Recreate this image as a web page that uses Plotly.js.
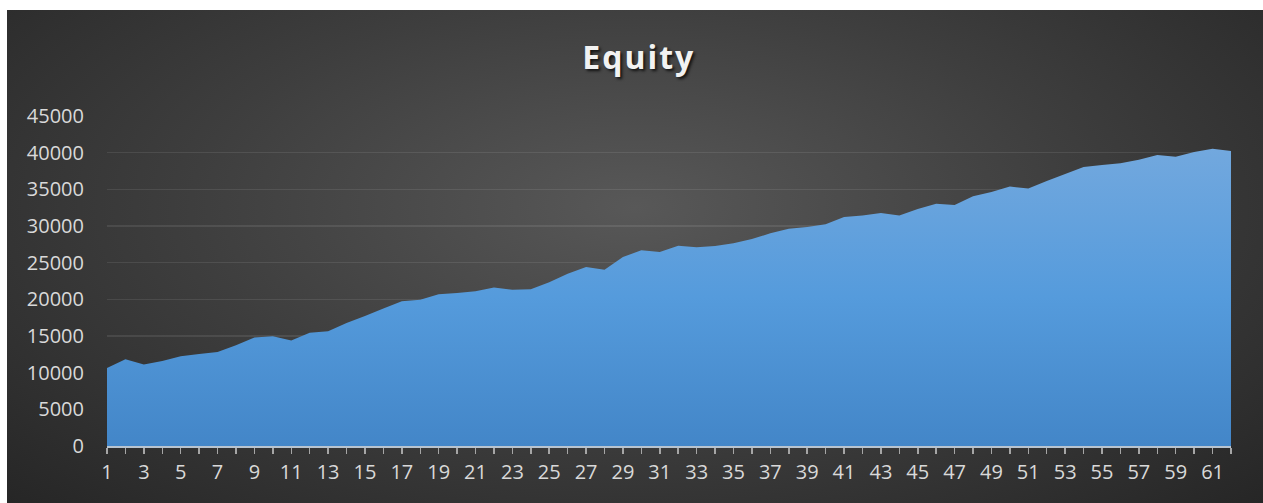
<!DOCTYPE html>
<html>
<head>
<meta charset="utf-8">
<script src="https://cdn.plot.ly/plotly-3.0.1.min.js"></script>
<style>
  html, body { margin: 0; padding: 0; background: #ffffff; width: 1263px; height: 503px; overflow: hidden; }
  #chart {
    position: absolute; left: 7px; top: 10px; width: 1256px; height: 493px;
    background: radial-gradient(ellipse at 50% 40%, #585858 0%, #3e3e3e 50%, #262626 100%);
  }
  #chart .gtitle { letter-spacing: 2px; }
</style>
</head>
<body>
<div id="chart"></div>
<script>
// Categories (period numbers) and equity values
const periods = ["1","2","3","4","5","6","7","8","9","10","11","12","13","14","15","16","17","18","19","20",
  "21","22","23","24","25","26","27","28","29","30","31","32","33","34","35","36","37","38","39","40",
  "41","42","43","44","45","46","47","48","49","50","51","52","53","54","55","56","57","58","59","60","61","62"];
const equity = [10640, 11820, 11100, 11590, 12230, 12545, 12820, 13730, 14780, 14960,
  14370, 15460, 15640, 16770, 17730, 18735, 19730, 19950, 20690, 20870,
  21100, 21600, 21320, 21370, 22320, 23500, 24410, 24050, 25770, 26690,
  26450, 27320, 27100, 27270, 27640, 28230, 29000, 29640, 29870, 30230,
  31230, 31420, 31770, 31420, 32320, 33050, 32860, 34050, 34640, 35370,
  35100, 36140, 37090, 38050, 38320, 38550, 39050, 39680, 39460, 40090, 40550, 40230];
const tickLabels = periods.map((p, i) => (i % 2 === 0 ? p : ""));
const chartTitle = "Equity";

const trace = {
  type: "scatter",
  x: periods,
  y: equity,
  mode: "none",
  fill: "tozeroy",
  fillgradient: {
    type: "vertical",
    colorscale: [[0, "#4386c8"], [0.5, "#559bdc"], [1, "#72a8de"]]
  },
  hoverinfo: "x+y"
};

const layout = {
  width: 1256,
  height: 493,
  paper_bgcolor: "rgba(0,0,0,0)",
  plot_bgcolor: "rgba(0,0,0,0)",
  margin: { l: 100, r: 32, t: 106, b: 57 },
  showlegend: false,
  title: {
    text: "<b>" + chartTitle + "</b>",
    x: 0.503,
    xref: "container",
    xanchor: "center",
    y: 0.904,
    yref: "container",
    yanchor: "middle",
    font: { family: "Open Sans", size: 32, color: "#f2f2f2", shadow: "2px 2px 3px rgba(0,0,0,0.75)" }
  },
  xaxis: {
    type: "category",
    range: [0, 61],
    tickvals: periods,
    ticktext: tickLabels,
    showgrid: false,
    showline: true,
    linecolor: "#b8c4d0",
    linewidth: 1.5,
    ticks: "outside",
    ticklen: 6,
    tickwidth: 1.5,
    tickcolor: "#a6a6a6",
    tickangle: 0,
    ticklabelstandoff: 1,
    tickfont: { family: "Open Sans", size: 20, color: "#d9d9d9" },
    zeroline: false,
    fixedrange: true
  },
  yaxis: {
    range: [0, 45000],
    dtick: 5000,
    tick0: 0,
    tickformat: "d",
    showgrid: true,
    gridcolor: "rgba(255,255,255,0.09)",
    gridwidth: 1.5,
    showline: false,
    zeroline: false,
    ticks: "",
    ticklabelstandoff: 22,
    tickfont: { family: "Open Sans", size: 20, color: "#d9d9d9" },
    fixedrange: true
  }
};

Plotly.newPlot("chart", [trace], layout, { displayModeBar: false, staticPlot: true });
</script>
</body>
</html>
